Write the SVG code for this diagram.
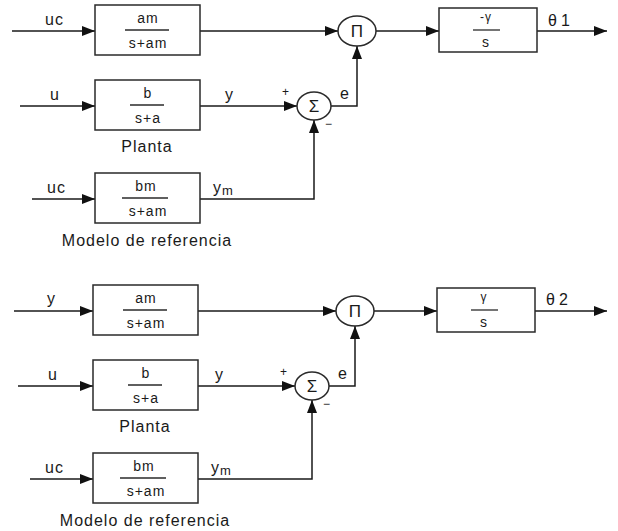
<svg xmlns="http://www.w3.org/2000/svg" width="618" height="531" viewBox="0 0 618 531">
<style>
.blk{fill:#fff;stroke:#2a2a2a;stroke-width:1.5}
.frac{stroke:#2a2a2a;stroke-width:1.3}
.w{fill:none;stroke:#1a1a1a;stroke-width:1.5}
text{font-family:"Liberation Sans",Arial,sans-serif;fill:#1a1a1a}
.ft{font-size:14px;letter-spacing:1px;text-anchor:middle}
.lb{font-size:16px;letter-spacing:1px}
.cap{font-size:16px;letter-spacing:1px;text-anchor:middle}
.sg{font-size:12px}
.op{font-size:17px;text-anchor:middle}
</style>
<defs>
<marker id="ah" markerUnits="userSpaceOnUse" markerWidth="13" markerHeight="10" refX="13" refY="5" orient="auto">
<path d="M0,0 L13,5 L0,10 z" fill="#111"/>
</marker>
</defs>

<g id="connectors">
<path class="w" marker-end="url(#ah)" d="M12,31 H95"/>
<path class="w" marker-end="url(#ah)" d="M200,31 H338"/>
<path class="w" marker-end="url(#ah)" d="M376,31 H439"/>
<path class="w" marker-end="url(#ah)" d="M537,31 H607"/>
<path class="w" marker-end="url(#ah)" d="M20,106 H95"/>
<path class="w" marker-end="url(#ah)" d="M200,106 H297"/>
<path class="w" marker-end="url(#ah)" d="M331,106 H357 V46"/>
<path class="w" marker-end="url(#ah)" d="M32,199 H95"/>
<path class="w" marker-end="url(#ah)" d="M200,199 H314 V120"/>

<path class="w" marker-end="url(#ah)" d="M14,311 H93"/>
<path class="w" marker-end="url(#ah)" d="M198,311 H336"/>
<path class="w" marker-end="url(#ah)" d="M374,311 H437"/>
<path class="w" marker-end="url(#ah)" d="M535,311 H607"/>
<path class="w" marker-end="url(#ah)" d="M18,386 H93"/>
<path class="w" marker-end="url(#ah)" d="M198,386 H295"/>
<path class="w" marker-end="url(#ah)" d="M329,386 H355 V326"/>
<path class="w" marker-end="url(#ah)" d="M30,479 H93"/>
<path class="w" marker-end="url(#ah)" d="M198,479 H312 V400"/>
</g>

<g id="labels">
<text class="lb" x="45" y="25">uc</text>
<text class="lb" x="50" y="100">u</text>
<text class="lb" x="225" y="100">y</text>
<text class="sg" x="282" y="96">+</text>
<text class="sg" x="325" y="128">−</text>
<text class="lb" x="340" y="99">e</text>
<text class="lb" x="548" y="26">θ<tspan dx="3">1</tspan></text>
<text class="lb" x="47" y="193">uc</text>
<text class="lb" x="213" y="193">y<tspan font-size="13" dy="2">m</tspan></text>
<text class="cap" x="147" y="152">Planta</text>
<text class="cap" x="147" y="246">Modelo de referencia</text>

<text class="lb" x="47" y="304">y</text>
<text class="lb" x="48" y="380">u</text>
<text class="lb" x="215" y="380">y</text>
<text class="sg" x="280" y="376">+</text>
<text class="sg" x="323" y="408">−</text>
<text class="lb" x="338" y="379">e</text>
<text class="lb" x="546" y="305">θ<tspan dx="3">2</tspan></text>
<text class="lb" x="45" y="473">uc</text>
<text class="lb" x="211" y="473">y<tspan font-size="13" dy="2">m</tspan></text>
<text class="cap" x="145" y="432">Planta</text>
<text class="cap" x="145" y="526">Modelo de referencia</text>
</g>

<g id="A1">
<rect class="blk" x="95" y="5" width="105" height="50"/>
<line class="frac" x1="125" y1="30" x2="169" y2="30"/>
<text class="ft" x="148" y="23">am</text>
<text class="ft" x="148" y="48">s+am</text>
</g>
<g id="B1">
<rect class="blk" x="95" y="80" width="105" height="50"/>
<line class="frac" x1="130" y1="105" x2="164" y2="105"/>
<text class="ft" x="148" y="98">b</text>
<text class="ft" x="148" y="123">s+a</text>
</g>
<g id="C1">
<rect class="blk" x="95" y="173" width="105" height="50"/>
<line class="frac" x1="122" y1="198" x2="168" y2="198"/>
<text class="ft" x="146" y="191">bm</text>
<text class="ft" x="148" y="216">s+am</text>
</g>
<g id="Pi1">
<ellipse class="blk" cx="357" cy="31" rx="19" ry="15"/>
<text class="op" x="357" y="37">Π</text>
</g>
<g id="Sum1">
<ellipse class="blk" cx="314" cy="106" rx="17" ry="14"/>
<text class="op" x="314" y="112">Σ</text>
</g>
<g id="G1">
<rect class="blk" x="439" y="8" width="98" height="44"/>
<line class="frac" x1="473" y1="30" x2="500" y2="30"/>
<text class="ft" style="font-size:12px" x="486" y="21">-γ</text>
<text class="ft" x="486" y="47">s</text>
</g>

<g id="A2">
<rect class="blk" x="93" y="285" width="105" height="50"/>
<line class="frac" x1="123" y1="310" x2="167" y2="310"/>
<text class="ft" x="146" y="303">am</text>
<text class="ft" x="146" y="328">s+am</text>
</g>
<g id="B2">
<rect class="blk" x="93" y="360" width="105" height="50"/>
<line class="frac" x1="128" y1="385" x2="162" y2="385"/>
<text class="ft" x="146" y="378">b</text>
<text class="ft" x="146" y="403">s+a</text>
</g>
<g id="C2">
<rect class="blk" x="93" y="453" width="105" height="50"/>
<line class="frac" x1="120" y1="478" x2="166" y2="478"/>
<text class="ft" x="144" y="471">bm</text>
<text class="ft" x="146" y="496">s+am</text>
</g>
<g id="Pi2">
<ellipse class="blk" cx="355" cy="311" rx="19" ry="15"/>
<text class="op" x="355" y="317">Π</text>
</g>
<g id="Sum2">
<ellipse class="blk" cx="312" cy="386" rx="17" ry="14"/>
<text class="op" x="312" y="392">Σ</text>
</g>
<g id="G2">
<rect class="blk" x="437" y="288" width="98" height="44"/>
<line class="frac" x1="471" y1="310" x2="498" y2="310"/>
<text class="ft" style="font-size:12px" x="484" y="301">γ</text>
<text class="ft" x="484" y="327">s</text>
</g>
</svg>
